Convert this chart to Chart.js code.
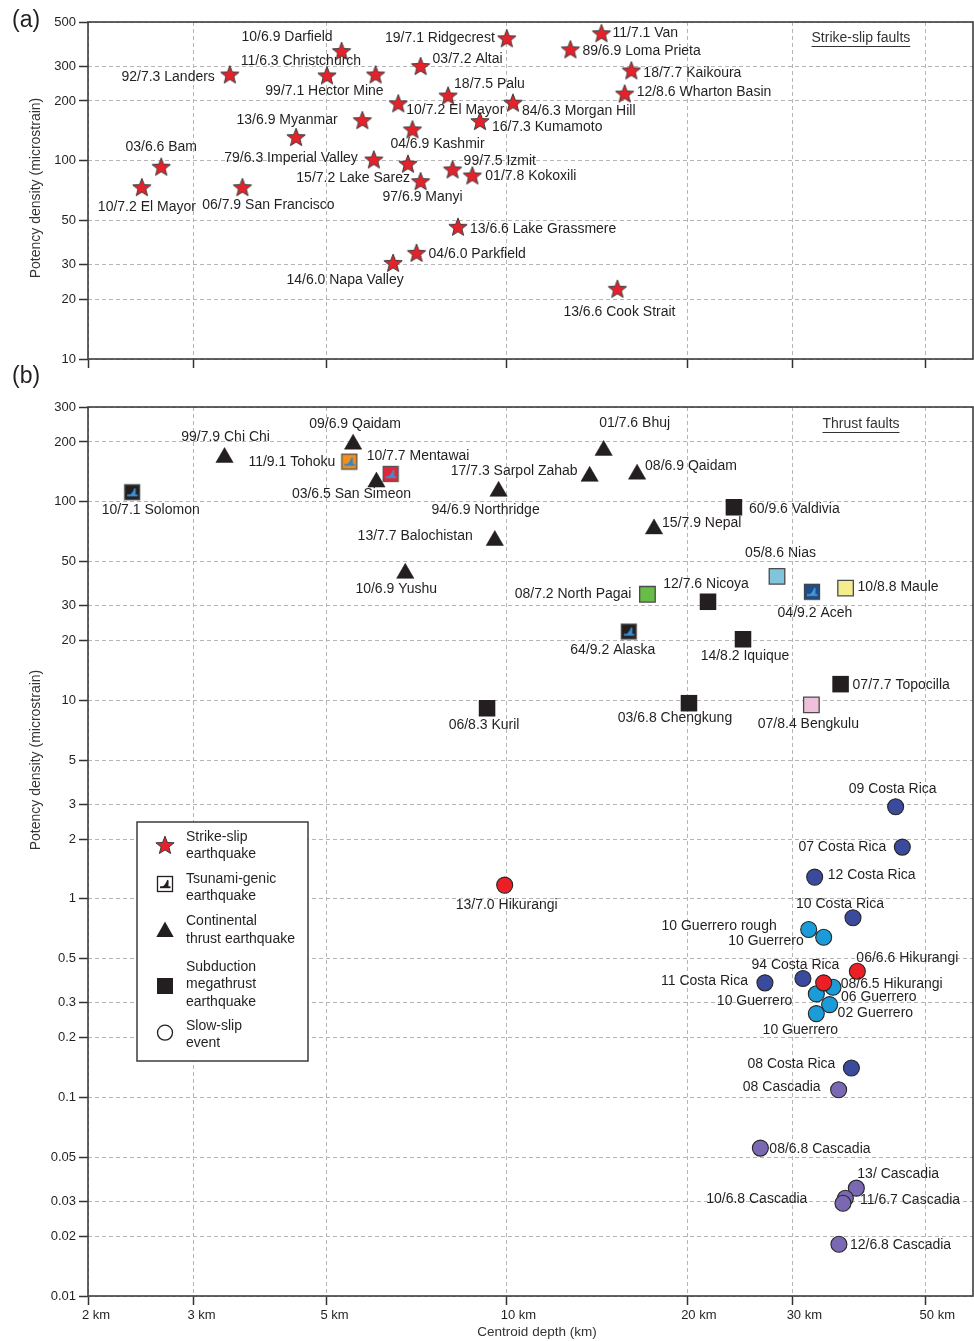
<!DOCTYPE html>
<html>
<head>
<meta charset="utf-8">
<script src="https://cdn.jsdelivr.net/npm/chart.js@4.4.1/dist/chart.umd.min.js"></script>
<style>
  body { margin: 0; background: #fff; }
  #wrap { position: relative; width: 974px; height: 1341px; background: #fff; }
  canvas { position: absolute; left: 0; }
  #chartA { top: 0; }
  #chartB { top: 360px; }
</style>
</head>
<body>
<div id="wrap">
  <canvas id="chartA" width="974" height="372"></canvas>
  <canvas id="chartB" width="974" height="981"></canvas>
</div>
<script>
// axis ticks
const depthTicks = [2, 3, 5, 10, 20, 30, 50]
const potencyTicksA = [10, 20, 30, 50, 100, 200, 300, 500]
const potencyTicksB = [0.01, 0.02, 0.03, 0.05, 0.1, 0.2, 0.3, 0.5, 1, 2, 3, 5, 10, 20, 30, 50, 100, 200, 300]

// (a) strike-slip earthquakes
const strikeSlipNames = ['10/6.9 Darfield', '19/7.1 Ridgecrest', '11/7.1 Van', '89/6.9 Loma Prieta', '11/6.3 Christchurch',
  '03/7.2 Altai', '92/7.3 Landers', '18/7.7 Kaikoura', '18/7.5 Palu', '99/7.1 Hector Mine', '10/7.2 El Mayor',
  '12/8.6 Wharton Basin', '84/6.3 Morgan Hill', '13/6.9 Myanmar', '', '16/7.3 Kumamoto', '04/6.9 Kashmir', '03/6.6 Bam',
  '79/6.3 Imperial Valley', '99/7.5 Izmit', '15/7.2 Lake Sarez', '01/7.8 Kokoxili', '97/6.9 Manyi', '10/7.2 El Mayor',
  '06/7.9 San Francisco', '13/6.6 Lake Grassmere', '04/6.0 Parkfield', '14/6.0 Napa Valley', '13/6.6 Cook Strait']
const strikeSlipDepth = [5.30, 10.0, 14.39, 12.77, 5.01, 7.18, 3.45, 16.14, 7.98, 6.04, 6.59, 15.73, 10.24, 4.45, 5.74,
  9.02, 6.96, 2.65, 6.00, 8.12, 6.84, 8.76, 7.18, 2.46, 3.62, 8.29, 7.07, 6.46, 15.30]
const strikeSlipPotency = [357, 414, 439, 364, 269, 300, 272, 285, 213, 272, 194.5, 218, 196, 131.4, 160,
  158.3, 143.7, 93.2, 101.4, 90.3, 96.5, 84.2, 78.8, 73.5, 73.5, 46.4, 34.3, 30.5, 22.6]

// (b) continental thrust earthquakes
const continentalNames = ['99/7.9 Chi Chi', '09/6.9 Qaidam', '03/6.5 San Simeon', '10/6.9 Yushu', '94/6.9 Northridge',
  '13/7.7 Balochistan', '17/7.3 Sarpol Zahab', '01/7.6 Bhuj', '08/6.9 Qaidam', '15/7.9 Nepal']
const continentalDepth = [3.38, 5.54, 6.06, 6.77, 9.69, 9.55, 13.75, 14.51, 16.50, 17.61]
const continentalPotency = [167, 195, 125.6, 43.6, 112.8, 63.8, 134.2, 181.4, 137.7, 73.0]

// (b) subduction megathrust earthquakes
const megathrustNames = ['06/8.3 Kuril', '60/9.6 Valdivia', '12/7.6 Nicoya', '14/8.2 Iquique', '07/7.7 Topocilla', '03/6.8 Chengkung']
const megathrustDepth = [9.27, 23.94, 21.67, 24.79, 36.07, 20.14]
const megathrustPotency = [9.12, 93.8, 31.35, 20.3, 12.06, 9.67]

const colouredNames = ['08/7.2 North Pagai', '05/8.6 Nias', '10/8.8 Maule', '07/8.4 Bengkulu']
const colouredDepth = [17.17, 28.25, 36.77, 32.24]
const colouredPotency = [34.2, 42.1, 36.75, 9.48]

// (b) tsunami-genic earthquakes
const tsunamiNames = ['10/7.1 Solomon', '11/9.1 Tohoku', '10/7.7 Mentawai', '64/9.2 Alaska', '04/9.2 Aceh']
const tsunamiDepth = [2.37, 5.46, 6.40, 15.98, 32.31]
const tsunamiPotency = [111.7, 159.3, 138.1, 22.2, 35.2]

// (b) slow-slip events
const costaRicaNames = ['09 Costa Rica', '07 Costa Rica', '12 Costa Rica', '10 Costa Rica', '94 Costa Rica', '11 Costa Rica', '08 Costa Rica']
const costaRicaDepth = [44.57, 45.73, 32.65, 37.83, 31.21, 26.97, 37.6]
const costaRicaPotency = [2.91, 1.823, 1.287, 0.803, 0.397, 0.3776, 0.1407]

const guerreroNames = ['10 Guerrero rough', '10 Guerrero', '06 Guerrero', '10 Guerrero', '02 Guerrero', '10 Guerrero']
const guerreroDepth = [31.91, 33.8, 35.03, 32.86, 34.58, 32.86]
const guerreroPotency = [0.701, 0.641, 0.3587, 0.3322, 0.2934, 0.2643]

const hikurangiNames = ['13/7.0 Hikurangi', '06/6.6 Hikurangi', '08/6.5 Hikurangi']
const hikurangiDepth = [9.92, 38.47, 33.8]
const hikurangiPotency = [1.173, 0.432, 0.3776]

const cascadiaNames = ['08 Cascadia', '08/6.8 Cascadia', '13/ Cascadia', '10/6.8 Cascadia', '11/6.7 Cascadia', '12/6.8 Cascadia']
const cascadiaDepth = [35.8, 26.5, 38.32, 36.74, 36.4, 35.84]
const cascadiaPotency = [0.1093, 0.05557, 0.03492, 0.03109, 0.02934, 0.01823]

// label placement relative to the marker: [dx, dy, align]
const strikeSlipLabelPos = [[-9, -14, 'r'], [-12, 0, 'r'], [11, 0, 'l'], [12, 2, 'l'], [-26, -14, 'c'], [12, -7, 'l'],
  [-15, 3, 'r'], [12, 3, 'l'], [6, -11, 'l'], [8, 17, 'r'], [8, 7, 'l'], [12, -1, 'l'], [9, 8, 'l'], [-9, -17, 'c'], null,
  [12, 6, 'l'], [25, 15, 'c'], [0, -20, 'c'], [-16, -1, 'r'], [11, -8, 'l'], [2, 14, 'r'], [13, 1, 'l'], [2, 16, 'c'],
  [5, 20, 'c'], [26, 18, 'c'], [12, 2, 'l'], [12, 1, 'l'], [-48, 17, 'c'], [2, 23, 'c']]
const continentalLabelPos = [[1, -20, 'c'], [2, -20, 'c'], [-25, 12.5, 'c'], [-9, 16, 'c'], [-13, 18.5, 'c'],
  [-22, -4, 'r'], [-12, -5, 'r'], [31, -27.5, 'c'], [8, -8.5, 'l'], [8, -6, 'l']]
const megathrustLabelPos = [[-3, 17, 'c'], [15, 2, 'l'], [-2, -18, 'c'], [2, 17, 'c'], [12, 1, 'l'], [-14, 15, 'c']]
const colouredLabelPos = [[-16, 0, 'r'], [3.5, -23, 'c'], [12, -1, 'l'], [-3, 19, 'c']]
const tsunamiLabelPos = [[18.5, 18.4, 'c'], [-14, 1, 'r'], [-24, -18, 'l'], [-16, 19, 'c'], [3, 21, 'c']]
const costaRicaLabelPos = [[-3, -18, 'c'], [-16, 0, 'r'], [13, -2, 'l'], [-13, -14, 'c'], [-7.5, -13, 'c'], [-17, -2, 'r'], [-16, -4, 'r']]
const guerreroLabelPos = [[-32, -3, 'r'], [-20, 4, 'r'], [8, 10, 'l'], [-24, 7, 'r'], [8, 9, 'l'], [-16, 17, 'c']]
const hikurangiLabelPos = [[2, 20, 'c'], [-1, -13, 'l'], [17, 1, 'l']]
const cascadiaLabelPos = [[-18, -3, 'r'], [9, 1, 'l'], [1, -14, 'l'], [-38, 1, 'r'], [17, -3, 'l'], [11, 1, 'l']]

const FONT = '"Liberation Sans", Arial, Helvetica, sans-serif'
const INK = '#231f20'

const toPoints = (xs, ys) => xs.map((x, i) => ({ x: x, y: ys[i] }))

const makeStar = (fill, stroke) => {
  const c = document.createElement('canvas')
  c.width = 22; c.height = 22
  const ctx = c.getContext('2d')
  ctx.beginPath()
  for (let i = 0; i < 10; i++) {
    const r = i % 2 === 0 ? 9.6 : 4.1
    const a = -Math.PI / 2 + i * Math.PI / 5
    ctx.lineTo(11 + r * Math.cos(a), 11.8 + r * Math.sin(a))
  }
  ctx.closePath()
  ctx.fillStyle = fill
  ctx.fill()
  ctx.strokeStyle = stroke
  ctx.lineWidth = 1
  ctx.stroke()
  return c
}

const makeTsunami = (bg, wave, edge) => {
  const c = document.createElement('canvas')
  c.width = 18; c.height = 18
  const ctx = c.getContext('2d')
  ctx.fillStyle = bg
  ctx.fillRect(1, 1, 16, 16)
  ctx.strokeStyle = edge
  ctx.lineWidth = 1.3
  ctx.strokeRect(1.5, 1.5, 15, 15)
  ctx.fillStyle = wave
  ctx.fillRect(4, 11.3, 10.5, 1.9)
  ctx.beginPath()
  ctx.moveTo(5.5, 12)
  ctx.quadraticCurveTo(9.5, 10.5, 11.2, 4.8)
  ctx.lineTo(12.6, 5.6)
  ctx.lineTo(12.4, 12)
  ctx.closePath()
  ctx.fill()
  return c
}

const starIcon = makeStar('#e5222b', '#3a3a3a')
const tsunamiIcons = [
  makeTsunami('#231f20', '#3b8fd3', '#555'),
  makeTsunami('#f0901f', '#2f86cf', '#555'),
  makeTsunami('#e4263a', '#3b8fd3', '#555'),
  makeTsunami('#231f20', '#3b8fd3', '#555'),
  makeTsunami('#1c4e8a', '#4a93d3', '#444')
]
const colouredFills = ['#68bd46', '#80c5dc', '#f3ed8d', '#efc0da']

const logAxis = (min, max, ticks, fmt, showLabels, extra) => ({
  type: 'logarithmic',
  min: min,
  max: max,
  afterBuildTicks: scale => { scale.ticks = ticks.map(v => ({ value: v })) },
  ticks: Object.assign({
    display: showLabels, autoSkip: false, maxRotation: 0, minRotation: 0,
    font: { family: FONT, size: 13 }, color: INK, padding: 3, callback: fmt
  }, extra || {}),
  grid: { color: '#b5b5b5', lineWidth: 1, tickLength: 9, tickColor: '#333', tickWidth: 1.5, tickBorderDash: [] },
  border: { display: false, dash: [4, 3] }
})

const pointLabels = {
  id: 'pointLabels',
  afterDatasetsDraw(chart) {
    const ctx = chart.ctx
    ctx.save()
    ctx.font = '14px ' + FONT
    ctx.fillStyle = INK
    ctx.textBaseline = 'middle'
    chart.data.datasets.forEach((ds, di) => {
      if (!ds.names) return
      const meta = chart.getDatasetMeta(di)
      meta.data.forEach((pt, i) => {
        const name = ds.names[i]
        const pos = ds.labelPos[i]
        if (!name || !pos) return
        ctx.textAlign = { l: 'left', r: 'right', c: 'center' }[pos[2]]
        ctx.fillText(name, pt.x + pos[0], pt.y + pos[1])
      })
    })
    ctx.restore()
  }
}

const drawFrame = chart => {
  const { ctx, chartArea: a } = chart
  ctx.save()
  ctx.strokeStyle = '#3d3d3d'
  ctx.lineWidth = 1.6
  ctx.strokeRect(a.left, a.top, a.right - a.left, a.bottom - a.top)
  ctx.restore()
}

const drawYTitle = (ctx, cy) => {
  ctx.save()
  ctx.translate(36, cy)
  ctx.rotate(-Math.PI / 2)
  ctx.font = '14px ' + FONT
  ctx.fillStyle = '#333'
  ctx.textAlign = 'center'
  ctx.textBaseline = 'middle'
  ctx.fillText('Potency density (microstrain)', 0, 0)
  ctx.restore()
}

const drawUnderlined = (ctx, str, x, y) => {
  ctx.save()
  ctx.font = '14px ' + FONT
  ctx.fillStyle = '#333'
  ctx.textAlign = 'left'
  ctx.textBaseline = 'middle'
  ctx.fillText(str, x, y)
  const w = ctx.measureText(str).width
  ctx.strokeStyle = '#333'
  ctx.lineWidth = 1
  ctx.beginPath()
  ctx.moveTo(x, y + 8.5)
  ctx.lineTo(x + w, y + 8.5)
  ctx.stroke()
  ctx.restore()
}

const drawPanelTag = (ctx, str, y) => {
  ctx.save()
  ctx.font = '23px ' + FONT
  ctx.fillStyle = INK
  ctx.textAlign = 'left'
  ctx.textBaseline = 'middle'
  ctx.fillText(str, 12, y)
  ctx.restore()
}

const decorA = {
  id: 'decorA',
  beforeDatasetsDraw: drawFrame,
  afterDraw(chart) {
    const ctx = chart.ctx
    drawPanelTag(ctx, '(a)', 21)
    drawYTitle(ctx, 188)
    drawUnderlined(ctx, 'Strike-slip faults', 811.5, 38)
  }
}

const drawLegend = ctx => {
  ctx.save()
  ctx.fillStyle = '#fff'
  ctx.fillRect(137, 462, 171, 239)
  ctx.strokeStyle = '#3d3d3d'
  ctx.lineWidth = 1.5
  ctx.strokeRect(137, 462, 171, 239)

  ctx.drawImage(starIcon, 154, 474)
  ctx.drawImage(makeTsunami('#fff', INK, INK), 156, 515)
  ctx.fillStyle = INK
  ctx.beginPath()
  ctx.moveTo(165, 561.5)
  ctx.lineTo(173.7, 577)
  ctx.lineTo(156.3, 577)
  ctx.closePath()
  ctx.fill()
  ctx.fillRect(157, 618, 16, 16)
  ctx.beginPath()
  ctx.arc(165, 672.7, 7.5, 0, Math.PI * 2)
  ctx.strokeStyle = INK
  ctx.lineWidth = 1.3
  ctx.stroke()

  ctx.font = '14px ' + FONT
  ctx.textAlign = 'left'
  ctx.textBaseline = 'middle'
  const lines = [['Strike-slip', 477.3], ['earthquake', 494.3], ['Tsunami-genic', 519.3], ['earthquake', 536.3],
    ['Continental', 561], ['thrust earthquake', 578.7], ['Subduction', 607.3], ['megathrust', 624.3],
    ['earthquake', 641.7], ['Slow-slip', 666], ['event', 683]]
  lines.forEach(l => ctx.fillText(l[0], 186, l[1]))
  ctx.restore()
}

const decorB = {
  id: 'decorB',
  beforeDatasetsDraw: drawFrame,
  afterDraw(chart) {
    const ctx = chart.ctx
    drawPanelTag(ctx, '(b)', 17)
    drawYTitle(ctx, 400)
    ctx.save()
    ctx.font = '13.5px ' + FONT
    ctx.fillStyle = '#333'
    ctx.textAlign = 'center'
    ctx.textBaseline = 'middle'
    ctx.fillText('Centroid depth (km)', 537, 972)
    ctx.restore()
    drawUnderlined(ctx, 'Thrust faults', 822.5, 64)
    drawLegend(ctx)
  }
}

const commonOptions = {
  responsive: false,
  animation: false,
  events: [],
  plugins: { legend: { display: false }, tooltip: { enabled: false } }
}

new Chart(document.getElementById('chartA').getContext('2d'), {
  type: 'scatter',
  data: {
    datasets: [{
      data: toPoints(strikeSlipDepth, strikeSlipPotency),
      names: strikeSlipNames,
      labelPos: strikeSlipLabelPos,
      pointStyle: starIcon,
      pointRadius: 9
    }]
  },
  options: Object.assign({}, commonOptions, {
    layout: { autoPadding: false, padding: { top: 22, right: 1, left: 0, bottom: 0 } },
    scales: {
      x: Object.assign(logAxis(2, 60, depthTicks, v => v + ' km', false), { afterFit: s => { s.height = 13 } }),
      y: Object.assign(logAxis(10, 500, potencyTicksA, v => String(v), true), { afterFit: s => { s.width = 88 } })
    }
  }),
  plugins: [pointLabels, decorA]
})

const circleSet = (xs, ys, names, pos, fill) => ({
  data: toPoints(xs, ys),
  names: names,
  labelPos: pos,
  pointStyle: 'circle',
  pointRadius: 8,
  backgroundColor: fill,
  borderColor: '#262626',
  borderWidth: 1.1
})

new Chart(document.getElementById('chartB').getContext('2d'), {
  type: 'scatter',
  data: {
    datasets: [
      {
        data: toPoints(continentalDepth, continentalPotency),
        names: continentalNames, labelPos: continentalLabelPos,
        pointStyle: 'triangle', pointRadius: 10, backgroundColor: INK, borderColor: INK, borderWidth: 0.5
      },
      {
        data: toPoints(megathrustDepth, megathrustPotency),
        names: megathrustNames, labelPos: megathrustLabelPos,
        pointStyle: 'rect', pointRadius: 11.7, backgroundColor: INK, borderColor: INK, borderWidth: 0
      },
      {
        data: toPoints(colouredDepth, colouredPotency),
        names: colouredNames, labelPos: colouredLabelPos,
        pointStyle: 'rect', pointRadius: 11, backgroundColor: colouredFills, borderColor: '#4a4a4a', borderWidth: 1.3
      },
      {
        data: toPoints(tsunamiDepth, tsunamiPotency),
        names: tsunamiNames, labelPos: tsunamiLabelPos,
        pointStyle: tsunamiIcons, pointRadius: 9
      },
      circleSet(costaRicaDepth, costaRicaPotency, costaRicaNames, costaRicaLabelPos, '#3a4a9c'),
      circleSet(hikurangiDepth, hikurangiPotency, hikurangiNames, hikurangiLabelPos, '#ec1f27'),
      circleSet(guerreroDepth, guerreroPotency, guerreroNames, guerreroLabelPos, '#1b9bd7'),
      circleSet(cascadiaDepth, cascadiaPotency, cascadiaNames, cascadiaLabelPos, '#7b68b2')
    ]
  },
  options: Object.assign({}, commonOptions, {
    layout: { autoPadding: false, padding: { top: 47, right: 1, left: 0, bottom: 0 } },
    scales: {
      x: Object.assign(logAxis(2, 60, depthTicks, v => v + ' km', true, { align: 'start', labelOffset: -6 }), { afterFit: s => { s.height = 45 } }),
      y: Object.assign(logAxis(0.01, 300, potencyTicksB, v => String(v), true), { afterFit: s => { s.width = 88 } })
    }
  }),
  plugins: [pointLabels, decorB]
})
</script>
</body>
</html>
